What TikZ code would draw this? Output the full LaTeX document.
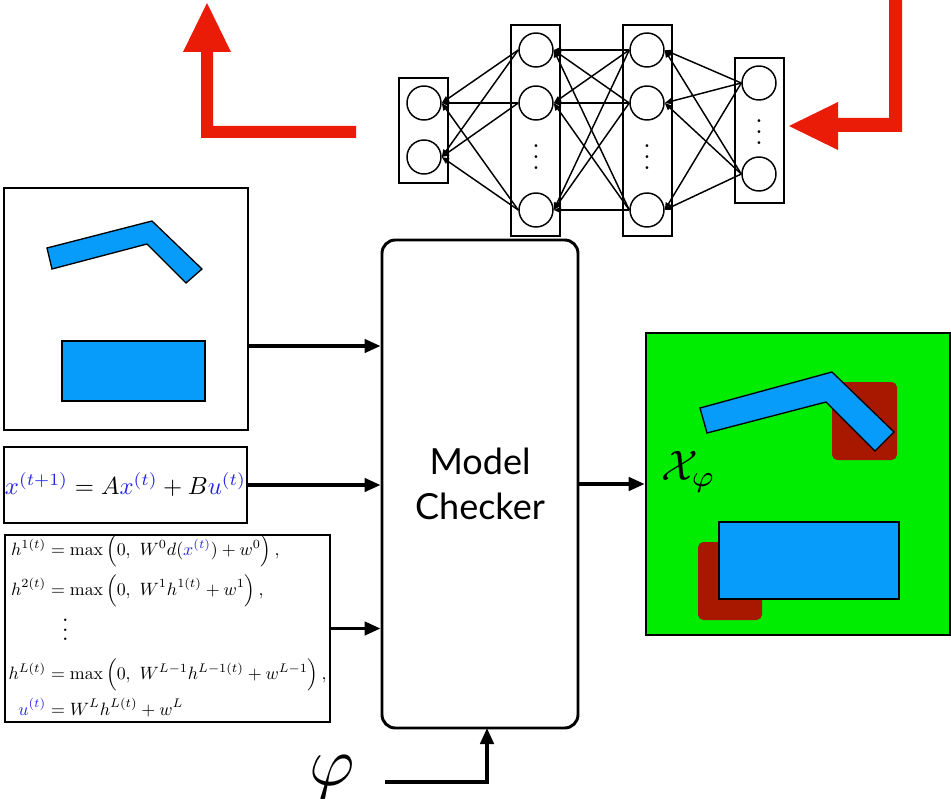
\documentclass[tikz,border=0pt]{standalone}
\usepackage{amsmath}
\usepackage{graphicx}
\usepackage{fontspec}
\newfontfamily\mcfont{Lato}
\usetikzlibrary{arrows.meta}
\definecolor{objblue}{RGB}{8,156,250}
\definecolor{obsred}{RGB}{168,24,0}
\definecolor{safegreen}{RGB}{0,236,0}
\definecolor{arrred}{RGB}{234,28,8}
\definecolor{varblue}{RGB}{35,35,235}
\newcommand\mydots{\vbox{\baselineskip4pt \lineskiplimit0pt \hbox{.}\hbox{.}\hbox{.}}}
\tikzset{
  thickbox/.style={draw, line width=2.2pt, inner sep=0pt},
  thinbox/.style={draw, line width=1.4pt, inner sep=0pt},
  layerbox/.style={draw, line width=1.1pt, minimum width=36.75pt, inner sep=0pt},
  neuron/.style={draw, circle, line width=1.1pt, minimum size=25.5pt, inner sep=0pt},
  nnarrow/.style={-{Triangle[length=5.5pt,width=4.5pt]}, line width=1.1pt},
  flow/.style={-{Triangle[length=12pt,width=10pt]}, line width=2.6pt},
  obj/.style={fill=objblue, draw=black, line width=1pt, line join=miter},
  obs/.style={fill=obsred, rounded corners=4pt},
  bigred/.style={fill=arrred},
  nndots/.style={inner sep=0pt}
}
\begin{document}
\begin{tikzpicture}[x=0.75pt,y=-0.75pt]
\path[use as bounding box] (0,0) rectangle (951,799);

% red arrows
\fill[bigred] (356,126) -- (213,126) -- (213,52) -- (231,52) -- (207,3) -- (183,52) -- (201,52) -- (201,138) -- (356,138) -- cycle;
\fill[bigred] (902,-4) -- (902,132) -- (838,132) -- (838,150) -- (789,126) -- (838,102) -- (838,118) -- (889,118) -- (889,-4) -- cycle;

% neural network
\node[layerbox, minimum height=78.75pt] (L1) at (423.5,130.5) {};
\node[layerbox, minimum height=158.25pt] (L2) at (535.5,130.5) {};
\node[layerbox, minimum height=158.25pt] (L3) at (647.5,130.5) {};
\node[layerbox, minimum height=108.75pt] (L4) at (759.5,130.5) {};
\node[neuron] (a1) at (424,103) {};
\node[neuron] (a2) at (424,157) {};
\node[neuron] (b1) at (536,50) {};
\node[neuron] (b2) at (536,103) {};
\node[neuron] (b3) at (536,210) {};
\node[neuron] (c1) at (647,50) {};
\node[neuron] (c2) at (647,103) {};
\node[neuron] (c3) at (647,210) {};
\node[neuron] (d1) at (759,83) {};
\node[neuron] (d2) at (759,174) {};
\node[nndots] (bd) at (536,157) {\scalebox{2}{\mydots}};
\node[nndots] (cd) at (647,157) {\scalebox{2}{\mydots}};
\node[nndots] (dd) at (759,132) {\scalebox{2}{\mydots}};
\foreach \s in {b1,b2,b3} \foreach \t in {a1,a2} \draw[nnarrow] (\s.west) -- (\t.east);
\foreach \s in {c1,c2,c3} \foreach \t in {b1,b2,b3} \draw[nnarrow] (\s.west) -- (\t.east);
\foreach \s in {d1,d2} \foreach \t in {c1,c2,c3} \draw[nnarrow] (\s.west) -- (\t.east);

% scene box
\node[thickbox, minimum width=183pt, minimum height=181.5pt] (scene) at (126,309) {};
\draw[obj] (47,248) -- (152,221) -- (202,269) -- (186,283) -- (147,244) -- (52,269) -- cycle;
\draw[obj] (62,341) rectangle (205,401);

% dynamics
\node[thinbox, minimum width=182.25pt, minimum height=57pt] (dyn) at (125.5,485)
 {\scalebox{1.85}{${\color{varblue}x^{(t+1)}} = A{\color{varblue}x^{(t)}} + B{\color{varblue}u^{(t)}}$}};

% controller
\node[thinbox, minimum width=243.75pt, minimum height=135.75pt] (ctrl) at (167.5,628.5)
 {\scalebox{1.34}{$\begin{aligned}
 h^{1(t)} &= \max\left(0,\ W^0 d({\color{varblue}x^{(t)}}) + w^0\right),\\
 h^{2(t)} &= \max\left(0,\ W^1 h^{1(t)} + w^1\right),\\[3pt]
 &\hspace{9pt}\scalebox{1.3}{\mydots}\\[3pt]
 h^{L(t)} &= \max\left(0,\ W^{L-1}h^{L-1(t)}+w^{L-1}\right),\\
 {\color{varblue}u^{(t)}} &= W^L h^{L(t)} + w^L
 \end{aligned}$}};

% model checker
\node[draw, line width=2.2pt, rounded corners=10pt, minimum width=147pt, minimum height=366pt,
  align=center, font=\mcfont\fontsize{27}{34}\selectfont] (mc) at (480,484) {Model\\Checker};

% output
\node[draw, line width=2pt, fill=safegreen, minimum width=228pt, minimum height=226.5pt, inner sep=0pt] (out) at (798,484) {};
\fill[obs] (832,382) rectangle (897,460);
\fill[obs] (698,542) rectangle (762,620);
\draw[obj] (700,408) -- (832,372) -- (894,432) -- (875,451) -- (826,402) -- (707,433) -- cycle;
\draw[obj] (719,522) rectangle (899,599);
\node[anchor=west, inner sep=0pt] (xphi) at (661,472) {\scalebox{3.2}{$\mathcal{X}_{\varphi}$}};

% phi
\node[inner sep=0pt, anchor=north] (phi) at (332,755) {\scalebox{5.2}{$\varphi$}};
\coordinate (phistart) at (385,782);
\coordinate (phiend) at (487,728);

% connectors
\draw[flow] (scene.east |- 0,346) -- (mc.west |- 0,346);
\draw[flow] (dyn.east) -- (mc.west |- dyn.east);
\draw[flow] (ctrl.east) -- (mc.west |- ctrl.east);
\draw[flow] (mc.east) -- (out.west);
\draw[flow] (phistart) -| (phiend);
\end{tikzpicture}
\end{document}
